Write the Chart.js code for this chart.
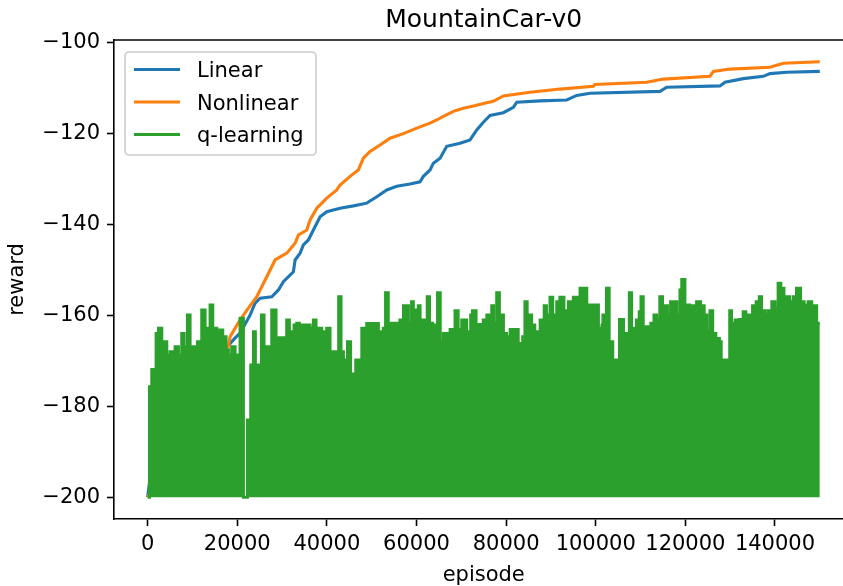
<!DOCTYPE html>
<html>
<head>
<meta charset="utf-8">
<script src="https://cdn.jsdelivr.net/npm/chart.js@4.4.0/dist/chart.umd.min.js"></script>
<style>
  html, body { margin: 0; padding: 0; background: #fff; overflow: hidden; }
  #wrap { width: 870px; height: 586px; }
</style>
</head>
<body>
<div id="wrap"><canvas id="chart" width="870" height="586"></canvas></div>
<script>
const FONT = '"DejaVu Sans", sans-serif';
const BLUE = '#1f77b4', ORANGE = '#ff7f0e', GREEN = '#2ca02c';

const xTicks = [0, 20000, 40000, 60000, 80000, 100000, 120000, 140000];
const yTicks = [-200, -180, -160, -140, -120, -100];

// Linear (best average so far)
const linearEpisodes = [0, 400, 3200, 17300, 19500, 20640, 22870, 23990, 25100, 27710, 29190, 30300, 32530, 32910,
  34030, 34760, 35880, 36990, 38490, 39980, 42950, 45920, 48900, 51140, 53370, 55600, 58570, 60800, 61540,
  63030, 63770, 65260, 66750, 69720, 71950, 73450, 74920, 76420, 79380, 81620, 82370, 87570, 93530, 95760,
  98730, 114350, 115840, 127730, 128850, 132930, 137400, 138890, 142610, 150000];
const linearReward = [-200, -197, -192.6, -167.4, -165.0, -163.9, -159.9, -157.3, -156.2, -155.9, -154.4, -152.6, -150.4, -147.8,
  -146.3, -144.5, -143.4, -141.2, -138.3, -137.2, -136.4, -135.9, -135.3, -133.9, -132.4, -131.6, -131.1, -130.6, -129.4,
  -128.0, -126.5, -125.4, -122.8, -122.1, -121.4, -119.2, -117.5, -116.0, -115.4, -114.2, -113.1, -112.8, -112.6, -111.6,
  -111.1, -110.7, -109.8, -109.5, -108.7, -107.9, -107.4, -106.8, -106.5, -106.3];

// Nonlinear
const nonlinearEpisodes = [0, 17500, 18400, 20640, 22490, 24360, 26590, 28450, 31060, 32910, 33650, 35520, 36260,
  37750, 39980, 42210, 42950, 45180, 47030, 48150, 49640, 51870, 54100, 57080, 60050, 63030, 64520, 66000,
  68230, 70460, 72690, 75670, 77150, 79380, 85340, 92030, 99470, 99800, 111380, 115090, 125500, 126240,
  129960, 138880, 141860, 150000];
const nonlinearReward = [-200, -169.4, -164.7, -161.0, -158.4, -155.9, -151.5, -147.8, -146.3, -144.1, -142.3, -141.2, -139.0,
  -136.4, -134.2, -132.4, -131.3, -129.4, -128.0, -125.4, -123.9, -122.5, -121.0, -120.0, -118.8, -117.7, -117.0, -116.2,
  -115.1, -114.4, -113.9, -113.2, -112.9, -111.7, -110.9, -110.2, -109.6, -109.2, -108.7, -108.0, -107.4, -106.3,
  -105.8, -105.4, -104.5, -104.2];

// q-learning: top of the per-episode rewards (floor is -200)
const qEpisodes = [0, 410, 930, 1300, 1900, 2420, 3160, 4280, 5020, 6130, 6880, 7620, 8140, 8880, 9480, 10590, 11120,
  11710, 12080, 12830, 13350, 13940, 14540, 15060, 15430, 16020, 16770, 17510, 18030, 18770, 19520, 20630, 21380,
  22270, 23010, 23610, 24050, 25390, 25980, 27700, 28660, 31040, 31640, 32160, 32680, 33270, 33870, 34390, 34910,
  35500, 36250, 36990, 37580, 38850, 39440, 39670, 39960, 40710, 42190, 42640, 43160, 43700, 44600, 45300, 46300,
  46450, 47300, 47800, 48900, 51500, 52600, 53100, 53700, 56300, 57100, 58200, 58900, 59300, 60400, 60800, 61900,
  62400, 62900, 63600, 64400, 64700, 65300, 66000, 67500, 68600, 69300, 70100, 71200, 72100, 72500, 73300, 73800,
  74900, 75700, 76800, 77200, 77900, 78500, 79400, 80100, 80900, 82700, 83700, 84200, 84700, 85700, 86400, 87000,
  87600, 88500, 89000, 89800, 90400, 91300, 92000, 92900, 93900, 95000, 95900, 96500, 96900, 97400, 98000, 100600,
  101400, 101600, 102400, 103000, 103800, 103900, 105000, 105300, 106200, 106500, 107500, 108000, 109100, 109700,
  110100, 110600, 111700, 112300, 113000, 113600, 114300, 114900, 116000, 116700, 118100, 118800, 119200, 119900,
  121000, 121600, 122100, 122500, 123400, 124200, 124800, 125500, 126100, 126800, 127600, 128000, 129900, 130300,
  131100, 132000, 132900, 133500, 135000, 135800, 136500, 137000, 137800, 138500, 139300, 140000, 140700, 141300,
  142000, 142600, 143300, 144100, 144800, 145700, 146500, 147400, 148200, 148700, 149300, 150000];
const qReward = [-200, -175.7, -171.9, -175.0, -164.0, -162.8, -165.8, -168.7, -168.0, -166.9, -168.7, -164.0, -166.9, -159.9, -166.9, -168.7, -165.8,
  -168.4, -158.8, -164.7, -162.8, -157.7, -164.7, -162.8, -165.1, -163.2, -164.7, -167.6, -168.7, -166.9, -168.7, -160.6, -200,
  -183.0, -170.9, -163.6, -170.9, -159.9, -166.9, -158.8, -164.9, -161.0, -164.3, -163.6, -162.1, -161.7, -163.2, -162.1, -163.6,
  -162.1, -162.8, -161.0, -162.8, -163.6, -168.4, -163.6, -162.8, -168.0, -172.0, -155.9, -168.0, -169.8, -165.8, -172.9, -197.0,
  -169.8, -178.6, -162.8, -161.8, -163.6, -162.8, -155.0, -161.7, -161.0, -157.9, -161.7, -157.0, -158.8, -157.9, -161.0, -162.5,
  -155.9, -161.7, -162.1, -168.7, -155.0, -165.8, -164.0, -163.1, -159.0, -163.1, -161.0, -163.6, -159.9, -159.0, -163.6, -162.0,
  -161.0, -159.9, -157.9, -161.7, -155.0, -159.9, -164.0, -164.7, -163.1, -166.2, -164.7, -157.0, -159.9, -162.1, -166.5, -163.6,
  -161.0, -157.9, -159.9, -156.0, -159.9, -157.0, -156.0, -159.0, -157.0, -156.0, -157.0, -154.0, -156.5, -154.0, -157.7, -162.8,
  -162.1, -159.9, -154.0, -165.8, -187.8, -169.8, -171.7, -160.9, -172.8, -164.0, -155.0, -162.8, -161.0, -159.2,
  -155.9, -162.5, -163.6, -161.7, -159.9, -161.0, -155.9, -157.9, -159.9, -157.0, -159.9, -154.4, -152.1, -157.7,
  -159.0, -157.9, -159.9, -157.0, -157.9, -159.9, -163.6, -159.0, -164.0, -165.1, -165.8, -169.8, -159.0, -161.7,
  -161.0, -160.9, -159.2, -159.9, -157.9, -157.0, -155.9, -159.0, -159.9, -159.0, -157.0, -158.4, -152.9, -154.0,
  -156.5, -155.9, -157.0, -155.9, -154.0, -157.0, -157.7, -157.0, -159.0, -157.9, -161.7, -161.7];

function toPoints(xs, ys) {
  return xs.map((x, i) => ({ x: x, y: ys[i] }));
}

const legendItems = [
  { label: 'Linear', color: BLUE },
  { label: 'Nonlinear', color: ORANGE },
  { label: 'q-learning', color: GREEN }
];

// title, top spine and legend box drawn over the chart
const framePlugin = {
  id: 'frame',
  afterDraw(chart) {
    const ctx = chart.ctx;
    const area = chart.chartArea;
    ctx.save();
    ctx.strokeStyle = '#000';
    ctx.lineWidth = 1.6;
    ctx.beginPath();
    ctx.moveTo(area.left, area.top);
    ctx.lineTo(area.right, area.top);
    ctx.stroke();

    ctx.fillStyle = '#000';
    ctx.font = '25px ' + FONT;
    ctx.textAlign = 'center';
    ctx.textBaseline = 'alphabetic';
    ctx.fillText('MountainCar-v0', (area.left + area.right) / 2, 27);

    const bx = area.left + 11, by = area.top + 12;
    ctx.beginPath();
    ctx.roundRect(bx, by, 191, 103, 4);
    ctx.fillStyle = 'rgba(255,255,255,0.8)';
    ctx.fill();
    ctx.strokeStyle = '#cccccc';
    ctx.lineWidth = 1.6;
    ctx.stroke();

    ctx.font = '21px ' + FONT;
    ctx.textAlign = 'left';
    legendItems.forEach((item, i) => {
      const y = by + 17.5 + i * 32.5;
      ctx.strokeStyle = item.color;
      ctx.lineWidth = 3.1;
      ctx.beginPath();
      ctx.moveTo(bx + 9, y);
      ctx.lineTo(bx + 55, y);
      ctx.stroke();
      ctx.fillStyle = '#000';
      ctx.fillText(item.label, bx + 72, y + 7.5);
    });
    ctx.restore();
  }
};

const ctx = document.getElementById('chart').getContext('2d');
new Chart(ctx, {
  type: 'line',
  data: {
    datasets: [
      {
        label: 'Linear',
        data: toPoints(linearEpisodes, linearReward),
        borderColor: BLUE,
        borderWidth: 3.1,
        pointRadius: 0,
        fill: false,
        order: 2
      },
      {
        label: 'Nonlinear',
        data: toPoints(nonlinearEpisodes, nonlinearReward),
        borderColor: ORANGE,
        borderWidth: 3.1,
        pointRadius: 0,
        fill: false,
        order: 1
      },
      {
        label: 'q-learning',
        data: toPoints(qEpisodes, qReward),
        borderColor: GREEN,
        backgroundColor: GREEN,
        borderWidth: 3,
        pointRadius: 0,
        stepped: true,
        fill: { value: -200 },
        order: 0
      }
    ]
  },
  options: {
    responsive: false,
    animation: false,
    events: [],
    layout: { padding: { top: 40, right: 16.6, left: 0, bottom: 0 } },
    plugins: {
      legend: { display: false },
      tooltip: { enabled: false },
      title: { display: false }
    },
    scales: {
      x: {
        type: 'linear',
        min: -7500,
        max: 157500,
        afterBuildTicks: s => { s.ticks = xTicks.map(v => ({ value: v })); },
        afterFit: s => { s.height = 67; },
        ticks: {
          autoSkip: false, maxRotation: 0, minRotation: 0,
          color: '#000', padding: 6,
          font: { family: FONT, size: 21 },
          callback: v => String(v)
        },
        grid: { drawOnChartArea: false, drawTicks: true, tickLength: 7, tickWidth: 1.6, tickColor: '#000' },
        border: { display: true, color: '#000', width: 1.6 },
        title: {
          display: true, text: 'episode', color: '#000',
          font: { family: FONT, size: 21, lineHeight: 1 },
          padding: { top: 0, bottom: 0 }
        }
      },
      y: {
        type: 'linear',
        min: -204.8,
        max: -99.4,
        afterBuildTicks: s => { s.ticks = yTicks.map(v => ({ value: v })); },
        afterFit: s => { s.width = 114; },
        ticks: {
          color: '#000', padding: 7,
          font: { family: FONT, size: 21 },
          callback: v => (v < 0 ? '\u2212' : '') + Math.abs(v)
        },
        grid: { drawOnChartArea: false, drawTicks: true, tickLength: 7, tickWidth: 1.6, tickColor: '#000' },
        border: { display: true, color: '#000', width: 1.6 },
        title: {
          display: true, text: 'reward', color: '#000',
          font: { family: FONT, size: 21, lineHeight: 1 },
          padding: { top: 7, bottom: 0 }
        }
      }
    }
  },
  plugins: [framePlugin]
});
</script>
</body>
</html>
